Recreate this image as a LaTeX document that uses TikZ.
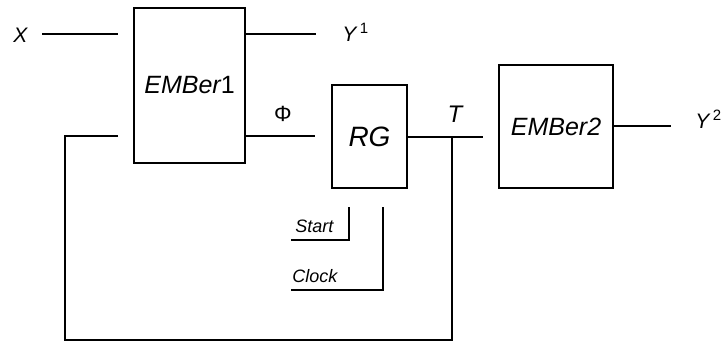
\documentclass[tikz,border=0pt]{standalone}
\usepackage{fontspec}
\setmainfont{Liberation Sans}
\usetikzlibrary{positioning}

\begin{document}
\begin{tikzpicture}[
    x=0.5pt, y=-0.5pt,
    block/.style={draw, line width=0.75pt, inner sep=0pt, font=\itshape\fontsize{12.5}{15}\selectfont},
    wire/.style={line width=0.75pt},
    sig/.style={inner sep=0pt, anchor=base west, font=\itshape\fontsize{10.5}{12}\selectfont},
    ctl/.style={inner sep=0pt, anchor=base west, font=\itshape\fontsize{9}{11}\selectfont},
  ]
  \useasboundingbox (0,0) rectangle (728,342);
  % blocks
  \node[block, minimum width=55.5pt, minimum height=77.5pt] (e1) at (189.5,85.5) {EMBer\upshape 1};
  \node[block, minimum width=37.5pt, minimum height=51.5pt, font=\itshape\fontsize{14}{16}\selectfont] (rg) at (369.5,136.5) {RG};
  \node[block, minimum width=57pt, minimum height=61.5pt] (e2) at (556,126.5) {EMBer2};
  % signal names
  \node[sig] (xin) at (13,43) {X};
  \node[sig] (y1) at (342,42) {Y\,\raisebox{0.75ex}{\upshape\fontsize{7.5}{9}\selectfont 1}};
  \node[sig] (y2) at (695,129) {Y\,\raisebox{0.75ex}{\upshape\fontsize{7.5}{9}\selectfont 2}};
  \node[inner sep=0pt, font=\fontsize{11}{13}\selectfont] (phi) at (283,114) {Φ};
  \node[inner sep=0pt, font=\itshape\fontsize{12}{14}\selectfont] (tsig) at (455,114) {T};
  \node[ctl] (start) at (295,232) {Start};
  \node[ctl] (clock) at (292,282) {Clock};
  % wire ends
  \coordinate (xa) at (42,34);
  \coordinate (xb) at (118,34);
  \coordinate (y1a) at (316,34);
  \coordinate (fa) at (315,136);
  \coordinate (fb) at (118,136);
  \coordinate (fc) at (65,136);
  \coordinate (tb) at (483,137);
  \coordinate (tj) at (452,137);
  \coordinate (bot) at (65,340);
  \coordinate (y2a) at (671,126);
  \coordinate (sa) at (349,207);
  \coordinate (sb) at (291,240);
  \coordinate (ca) at (383,207);
  \coordinate (cb) at (291,290);
  % connections
  \draw[wire] (xa) -- (xb);
  \draw[wire] (e1.east |- y1a) -- (y1a);
  \draw[wire] (e1.east |- fa) -- (fa);
  \draw[wire] (rg.east |- tb) -- (tb);
  \draw[wire] (e2.east |- y2a) -- (y2a);
  \draw[wire] (fb) -- (fc) -- (bot) -- (bot -| tj) -- (tj);
  \draw[wire] (sa) -- (sa |- sb) -- (sb);
  \draw[wire] (ca) -- (ca |- cb) -- (cb);
\end{tikzpicture}
\end{document}
